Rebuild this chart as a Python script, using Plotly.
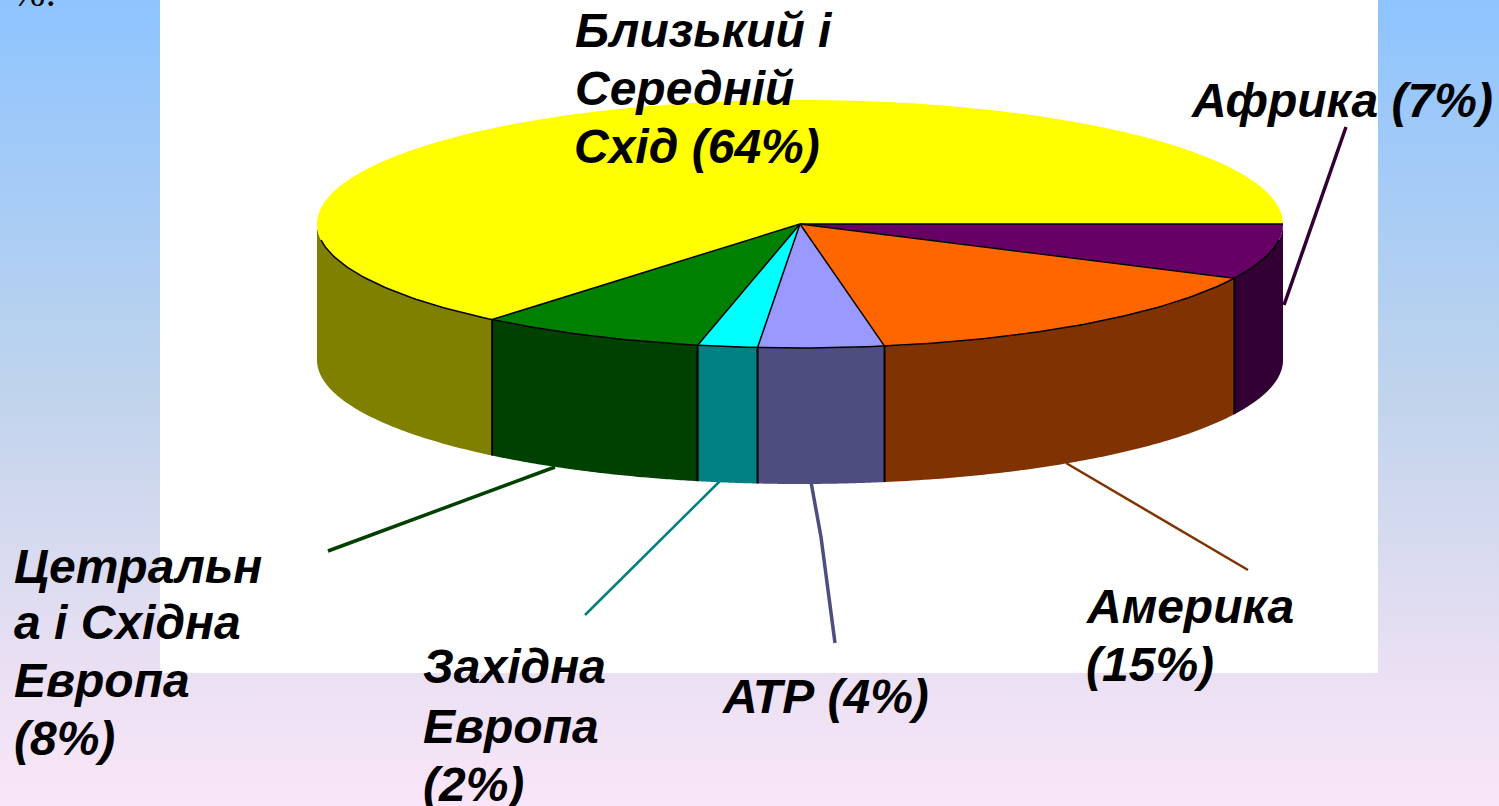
import numpy as np
import plotly.graph_objects as go

# ---- data (clockwise from the right-hand edge of the pie)
regions = ["Африка", "Америка", "АТР", "Західна Европа", "Цетральна і Східна Европа", "Близький і Середній Схід"]
shares = [7.2, 15.0, 4.2, 2.0, 7.6, 64.0]
top_colors = ["#660066", "#FF6600", "#9999FF", "#00FFFF", "#008000", "#FFFF00"]
side_colors = ["#330033", "#803300", "#4D4D80", "#008080", "#004000", "#808000"]

label_lines = ["Близький і", "Середній", "Схід (64%)", "Африка (7%)", "Цетральн", "а і Східна", "Европа", "(8%)",
               "Західна", "Европа", "(2%)", "АТР (4%)", "Америка", "(15%)"]
label_x = [573, 573, 572, 1189, 12, 12, 12, 12, 421, 421, 421, 720, 1084, 1084]
label_y = [30, 88, 146, 100, 566, 622, 680, 738, 666, 726, 784, 696, 606, 664]

leader_x = [[1346, 1284], [1248, 1066], [835, 821, 811], [585, 720], [328, 555]]
leader_y = [[127, 305], [570, 463], [643, 537, 482], [615, 481], [551, 467]]
leader_colors = ["#330033", "#803300", "#4D4D80", "#008080", "#004000"]
leader_widths = [3.5, 2.5, 3.5, 2.5, 3.5]

# ---- pie geometry
CX, CY, RX, RY, DEPTH = 800.0, 224.0, 483.0, 124.0, 136.0
W, H = 1499, 806


def ex(a):
    return CX + RX * np.cos(a)


def ey(a):
    return CY + RY * np.sin(a)


edges = np.radians(np.concatenate([[0], np.cumsum(shares)]) * 3.6)
fig = go.Figure()

# page background and white panel
fig.add_trace(go.Scatter(
    x=[0, W, W, 0, 0], y=[0, 0, H, H, 0], mode="none", fill="toself",
    fillgradient=dict(type="vertical", start=0, stop=H,
                      colorscale=[[0, "#8EC4FF"], [0.5, "#C1D4EC"], [0.835, "#EBE0F3"], [1, "#F9E6F8"]]),
    hoverinfo="skip"))
fig.add_trace(go.Scatter(x=[160, 1378, 1378, 160, 160], y=[0, 0, 673, 673, 0], mode="none",
                         fill="toself", fillcolor="white", hoverinfo="skip"))

# side wall (only the front half of the pie is visible)
for i in range(len(shares)):
    a0, a1 = edges[i], min(edges[i + 1], np.pi)
    if a0 >= np.pi:
        continue
    t = np.linspace(a0, a1, 80)
    xs = np.concatenate([ex(t), ex(t[::-1])])
    ys = np.concatenate([ey(t), ey(t[::-1]) + DEPTH])
    fig.add_trace(go.Scatter(x=xs, y=ys, mode="none", fill="toself", fillcolor=side_colors[i], hoverinfo="skip"))

# top face
for i in range(len(shares)):
    t = np.linspace(edges[i], edges[i + 1], 240)
    xs = np.concatenate([[CX], ex(t), [CX]])
    ys = np.concatenate([[CY], ey(t), [CY]])
    fig.add_trace(go.Scatter(x=xs, y=ys, mode="none", fill="toself", fillcolor=top_colors[i], hoverinfo="skip"))

# black outlines: spokes, front rim and wall verticals
for i in range(len(shares)):
    a = edges[i]
    fig.add_trace(go.Scatter(x=[CX, ex(a)], y=[CY, ey(a)], mode="lines",
                             line=dict(color="black", width=1.5), hoverinfo="skip"))
    if 0 < a < np.pi:
        fig.add_trace(go.Scatter(x=[ex(a), ex(a)], y=[ey(a), ey(a) + DEPTH], mode="lines",
                                 line=dict(color="black", width=2), hoverinfo="skip"))
t = np.linspace(0.13, np.pi - 0.13, 200)
fig.add_trace(go.Scatter(x=ex(t), y=ey(t), mode="lines", line=dict(color="black", width=1.5), hoverinfo="skip"))

# leader lines
for lx, ly, c, w in zip(leader_x, leader_y, leader_colors, leader_widths):
    fig.add_trace(go.Scatter(x=lx, y=ly, mode="lines", line=dict(color=c, width=w), hoverinfo="skip"))

annotations = [
    dict(x=lx, y=ly, text=s, xref="x", yref="y", xanchor="left", yanchor="middle", showarrow=False,
         font=dict(family="Liberation Sans", size=48, color="black", weight="bold", style="italic"))
    for s, lx, ly in zip(label_lines, label_x, label_y)
]
annotations.append(dict(x=10, y=17, text="%:", xref="x", yref="y", xanchor="left", yanchor="bottom", showarrow=False,
                        font=dict(family="Liberation Serif", size=40, color="black")))

fig.update_layout(
    width=W, height=H, margin=dict(l=0, r=0, t=0, b=0), showlegend=False,
    paper_bgcolor="white", plot_bgcolor="white", annotations=annotations,
    xaxis=dict(range=[0, W], visible=False, fixedrange=True),
    yaxis=dict(range=[H, 0], visible=False, fixedrange=True),
)
fig.write_html("out.html", config={"displayModeBar": False},
               post_script="document.body.style.margin='0';document.body.style.overflow='hidden';")
